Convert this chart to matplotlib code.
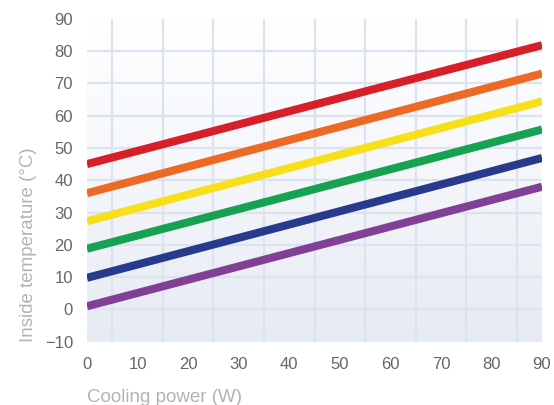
import matplotlib
matplotlib.use("Agg")
import matplotlib.pyplot as plt
import numpy as np

plt.rcParams['font.family'] = ['Liberation Sans', 'DejaVu Sans']

# cooling power (W) at the two ends of each line
power = [0, 90]
# inside temperature (degC) for each line, top to bottom
temps = [
    [45.0, 81.8],
    [36.0, 73.0],
    [27.3, 64.4],
    [18.8, 55.7],
    [9.8, 46.9],
    [1.0, 38.0],
]
colors = ["#d71f2a", "#ec6a26", "#f7df1c", "#17a253", "#283a8c", "#813f96"]

xticks = list(range(0, 100, 10))
yticks = list(range(-10, 100, 10))
xgrid = list(range(5, 90, 10))
ygrid = list(range(0, 90, 10))

fig = plt.figure(figsize=(5.54, 4.05), dpi=100)
ax = fig.add_axes([87/554, 1-341.8/405, (542-87)/554, (341.8-18.7)/405])

# gradient background, white at top to pale blue-grey at bottom
grad = np.linspace(0, 1, 256)[:, None]
cmap = matplotlib.colors.LinearSegmentedColormap.from_list(
    "bg", ["#ffffff", "#f4f6fa", "#e6eaf3"])
ax.imshow(grad, aspect="auto", cmap=cmap, extent=[0, 90, -10, 90],
          origin="upper", zorder=0)
ax.set_xlim(0, 90)
ax.set_ylim(-10, 90)

for xg in xgrid:
    ax.axvline(xg, color="#dde3ee", lw=1.6, zorder=1)
for yg in ygrid:
    ax.axhline(yg, color="#dde3ee", lw=1.6, zorder=1)

for t, c in zip(temps, colors):
    ax.plot(power, t, color=c, lw=5.8, solid_capstyle="butt", zorder=3)

ax.set_xticks(xticks)
ax.set_yticks(yticks)
ax.tick_params(length=0, labelsize=12, labelcolor="#666666")
ax.tick_params(axis="x", pad=11)
ax.tick_params(axis="y", pad=10)
for s in ax.spines.values():
    s.set_visible(False)

ax.set_xlabel("Cooling power (W)", loc="left", fontsize=13.5,
              color="#b3b3b3", labelpad=12)
ax.set_ylabel("Inside temperature (\u00b0C)", loc="bottom", fontsize=13.5,
              color="#b3b3b3", labelpad=6)

fig.savefig("out.png", dpi=100)
